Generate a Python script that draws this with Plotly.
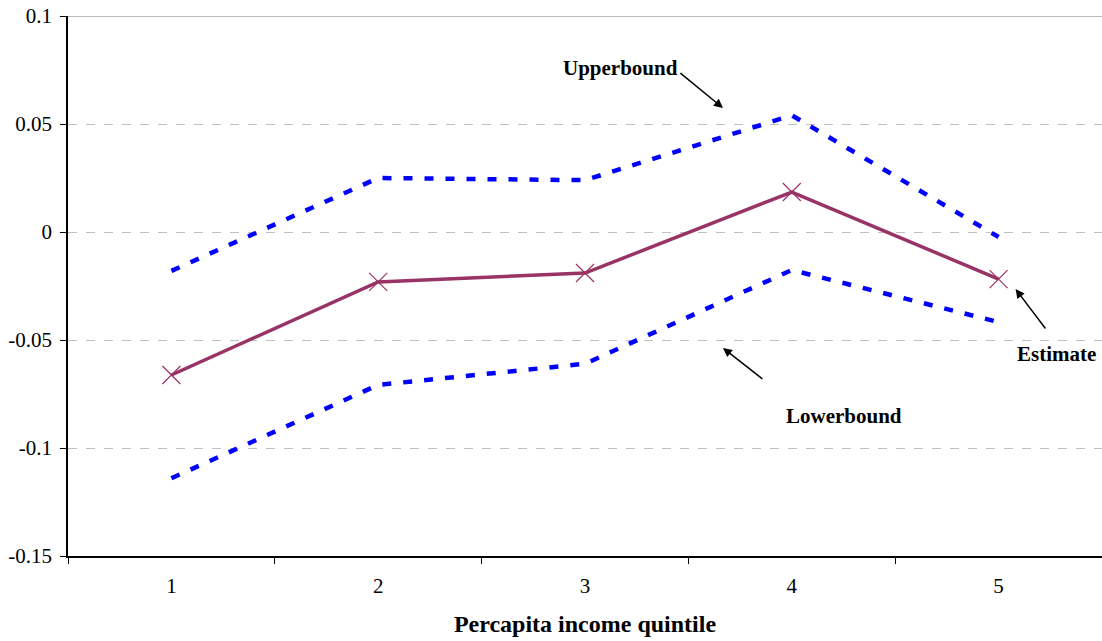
import plotly.graph_objects as go

quintiles = ["1", "2", "3", "4", "5"]
estimate = [-0.0662, -0.0231, -0.019, 0.0185, -0.0218]
upperbound = [-0.018, 0.025, 0.024, 0.054, -0.0023]
lowerbound = [-0.114, -0.0708, -0.061, -0.0176, -0.0417]
y_ticks = [0.1, 0.05, 0, -0.05, -0.1, -0.15]
y_ticktext = ["0.1", "0.05", "0", "-0.05", "-0.1", "-0.15"]

blue = "#0000FF"
plum = "#993366"
font = "Liberation Serif"

fig = go.Figure()
fig.add_trace(go.Scatter(x=quintiles, y=upperbound, mode="lines",
                         line=dict(color=blue, width=4.5, dash="9px,12px"), name="Upperbound"))
fig.add_trace(go.Scatter(x=quintiles, y=lowerbound, mode="lines",
                         line=dict(color=blue, width=4.5, dash="9px,12px"), name="Lowerbound"))
fig.add_trace(go.Scatter(x=quintiles, y=estimate, mode="lines+markers",
                         line=dict(color=plum, width=3.5),
                         marker=dict(symbol="x-thin-open", size=18, color=plum,
                                     line=dict(color=plum, width=1.2)),
                         name="Estimate"))

fig.add_shape(type="line", xref="paper", yref="y", x0=0, x1=1, y0=0.1, y1=0.1,
              line=dict(color="#A0A0A0", width=1.5))

# positions in category-index coordinates (0 = "1")
labels = [
    ("Upperbound", 2.174, 0.0759),
    ("Lowerbound", 3.251, -0.0852),
    ("Estimate", 4.280, -0.0565),
]
for t, x, y in labels:
    fig.add_annotation(x=x, y=y, text="<b>%s</b>" % t, showarrow=False,
                       font=dict(family=font, size=21, color="black"))

arrows = [
    (2.454, 0.0741, 2.667, 0.0574),
    (2.865, -0.0685, 2.667, -0.0537),
    (4.232, -0.0454, 4.082, -0.0264),
]
for x0, y0, x1, y1 in arrows:
    fig.add_annotation(x=x1, y=y1, ax=x0, ay=y0, xref="x", yref="y", axref="x", ayref="y",
                       text="", showarrow=True, arrowhead=2, arrowsize=1.2, arrowwidth=1.5,
                       arrowcolor="black")

fig.update_layout(
    width=1102, height=641,
    margin=dict(l=68, r=0, t=16, b=85),
    plot_bgcolor="white", paper_bgcolor="white",
    showlegend=False,
    font=dict(family=font, size=21, color="black"),
    xaxis=dict(type="category", range=[-0.5, 4.5], tickson="boundaries",
               ticks="outside", ticklen=6, tickcolor="black",
               ticklabelstandoff=10,
               showgrid=False, zeroline=False,
               showline=True, linecolor="black", linewidth=1.5,
               title=dict(text="<b>Percapita income quintile</b>",
                          font=dict(family=font, size=24), standoff=18),
               tickfont=dict(family=font, size=21, color="black")),
    yaxis=dict(range=[-0.15, 0.1], tickvals=y_ticks, ticktext=y_ticktext,
               ticks="outside", ticklen=6, tickcolor="black",
               ticklabelstandoff=4,
               showline=True, linecolor="black", linewidth=1.5,
               showgrid=True, gridcolor="#C0C0C0", griddash="dash", gridwidth=1,
               zeroline=False, tickfont=dict(family=font, size=21, color="black")),
)

fig.write_html("out.html", config={"displayModeBar": False},
               post_script="document.body.style.margin='0';document.body.style.overflow='hidden';")
